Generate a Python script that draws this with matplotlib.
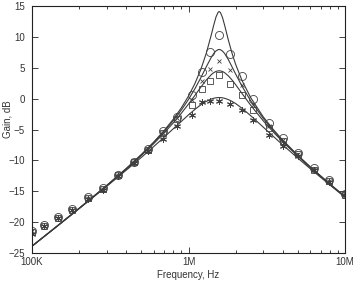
import matplotlib
matplotlib.use("Agg")
import matplotlib.pyplot as plt
from matplotlib.ticker import FixedLocator, LogLocator, NullFormatter

plt.rcParams['font.family'] = ['Liberation Sans', 'DejaVu Sans']

# ---- theoretical curves ----
curve_freq_mhz = [0.1, 0.15, 0.2, 0.3, 0.4, 0.5, 0.6, 0.7, 0.8, 0.9, 1.0, 1.1, 1.2, 1.3,
                  1.4, 1.45, 1.5, 1.55, 1.57, 1.6, 1.65, 1.7, 1.8, 1.9, 2.0, 2.2, 2.5,
                  3.0, 3.5, 4.0, 5.0, 6.0, 8.0, 10.0]
curve_a = [-23.88, -20.32, -17.76, -14.06, -11.31, -9.03, -7.02, -5.14, -3.32, -1.49, 0.41,
           2.47, 4.75, 7.38, 10.38, 11.92, 13.26, 14.03, 14.10, 13.94, 13.12, 11.92, 9.43,
           7.30, 5.56, 2.91, 0.14, -2.93, -5.07, -6.71, -9.18, -11.04, -13.81, -15.87]
curve_b = [-23.89, -20.32, -17.77, -14.08, -11.35, -9.10, -7.12, -5.30, -3.56, -1.85, -0.13,
           1.62, 3.41, 5.17, 6.72, 7.32, 7.74, 7.94, 7.96, 7.92, 7.70, 7.32, 6.29, 5.12,
           3.99, 1.99, -0.37, -3.19, -5.23, -6.82, -9.24, -11.08, -13.83, -15.88]
curve_c = [-23.89, -20.33, -17.78, -14.11, -11.41, -9.20, -7.28, -5.54, -3.92, -2.37, -0.88,
           0.54, 1.87, 3.02, 3.90, 4.21, 4.41, 4.50, 4.51, 4.49, 4.39, 4.21, 3.67, 3.00,
           2.27, 0.82, -1.09, -3.58, -5.47, -6.99, -9.34, -11.15, -13.87, -15.91]
curve_d = [-23.90, -20.36, -17.82, -14.21, -11.59, -9.51, -7.75, -6.22, -4.87, -3.68, -2.63,
           -1.73, -0.99, -0.44, -0.06, 0.06, 0.14, 0.17, 0.17, 0.17, 0.13, 0.06, -0.16, -0.45,
           -0.79, -1.57, -2.77, -4.60, -6.16, -7.49, -9.64, -11.35, -13.97, -15.97]

# ---- measured points ----
meas_freq_mhz = [0.100, 0.120, 0.146, 0.180, 0.227, 0.283, 0.353, 0.447, 0.552, 0.690,
                 0.840, 1.06, 1.22, 1.37, 1.57, 1.84, 2.19, 2.60, 3.27, 4.03, 5.03,
                 6.34, 7.90, 10.0]
meas_circle = [-21.4, -20.5, -19.2, -17.9, -16.0, -14.5, -12.3, -10.2, -8.1, -5.3,
               -2.95, 0.57, 4.35, 7.59, 10.3, 7.22, 3.65, -0.13, -3.9, -6.4, -8.8,
               -11.3, -13.2, -15.4]
meas_cross = [-21.5, -20.6, -19.3, -18.0, -16.1, -14.6, -12.4, -10.3, -8.2, -5.5,
              -3.2, -0.2, 2.9, 4.85, 6.1, 4.6, 2.2, -1.0, -4.4, -6.7, -9.0,
              -11.4, -13.3, -15.5]
meas_square = [-21.6, -20.6, -19.3, -18.0, -16.1, -14.6, -12.4, -10.3, -8.3, -5.6,
               -3.3, -1.0, 1.5, 2.85, 3.8, 2.35, 0.57, -1.8, -4.8, -6.8, -9.0,
               -11.5, -13.4, -15.6]
meas_plus = [-21.9, -20.7, -19.4, -18.1, -16.3, -14.8, -12.6, -10.5, -8.5, -6.6,
             -4.5, -2.7, -0.5, -0.4, -0.45, -0.9, -1.9, -3.5, -5.9, -7.7, -9.3,
             -11.6, -13.5, -15.6]

x_tick_vals = [1e5, 1e6, 1e7]
x_tick_labels = ["100K", "1M", "10M"]
y_tick_vals = [-25, -20, -15, -10, -5, 0, 5, 10, 15]

fig = plt.figure(figsize=(3.53, 2.81), dpi=100)
ax = fig.add_axes([0.0907, 0.0996, 0.8866, 0.879])

lc = '#3a3a3a'
cf = [f * 1e6 for f in curve_freq_mhz]
for c in (curve_a, curve_b, curve_c, curve_d):
    ax.plot(cf, c, color=lc, lw=0.8)

mf = [f * 1e6 for f in meas_freq_mhz]
mc = '#404040'
ax.plot(mf, meas_circle, ls='none', marker='o', ms=5.8, mfc='none', mec=mc, mew=0.6)
ax.plot(mf, meas_cross, ls='none', marker='x', ms=3.5, mfc='none', mec=mc, mew=0.6)
ax.plot(mf, meas_square, ls='none', marker='s', ms=5.0, mfc='none', mec=mc, mew=0.6)
ax.plot(mf, meas_plus, ls='none', marker=(6, 2, 0), ms=5.0, mfc='none', mec=mc, mew=0.7)

ax.set_xscale('log')
ax.set_xlim(1e5, 1e7)
ax.set_ylim(-25, 15)
ax.xaxis.set_major_locator(FixedLocator(x_tick_vals))
ax.set_xticklabels(x_tick_labels)
ax.xaxis.set_minor_locator(LogLocator(base=10, subs=range(2, 10)))
ax.xaxis.set_minor_formatter(NullFormatter())
ax.set_yticks(y_tick_vals)

ax.tick_params(which='both', direction='in', top=True, right=True, colors='#222222',
               labelsize=7, labelcolor='#333333', width=0.6)
ax.tick_params(which='major', length=4)
ax.tick_params(axis='y', which='major', pad=5)
ax.tick_params(axis='x', which='major', pad=3)
ax.tick_params(which='minor', length=2.5)
for s in ax.spines.values():
    s.set_linewidth(0.8)
    s.set_color('#222222')

ax.set_xlabel("Frequency, Hz", fontsize=7, color='#333333', labelpad=2)
ax.set_ylabel("Gain, dB", fontsize=7, color='#333333')
ax.yaxis.set_label_coords(-0.062, 0.54)

fig.savefig("out.png", dpi=100)
